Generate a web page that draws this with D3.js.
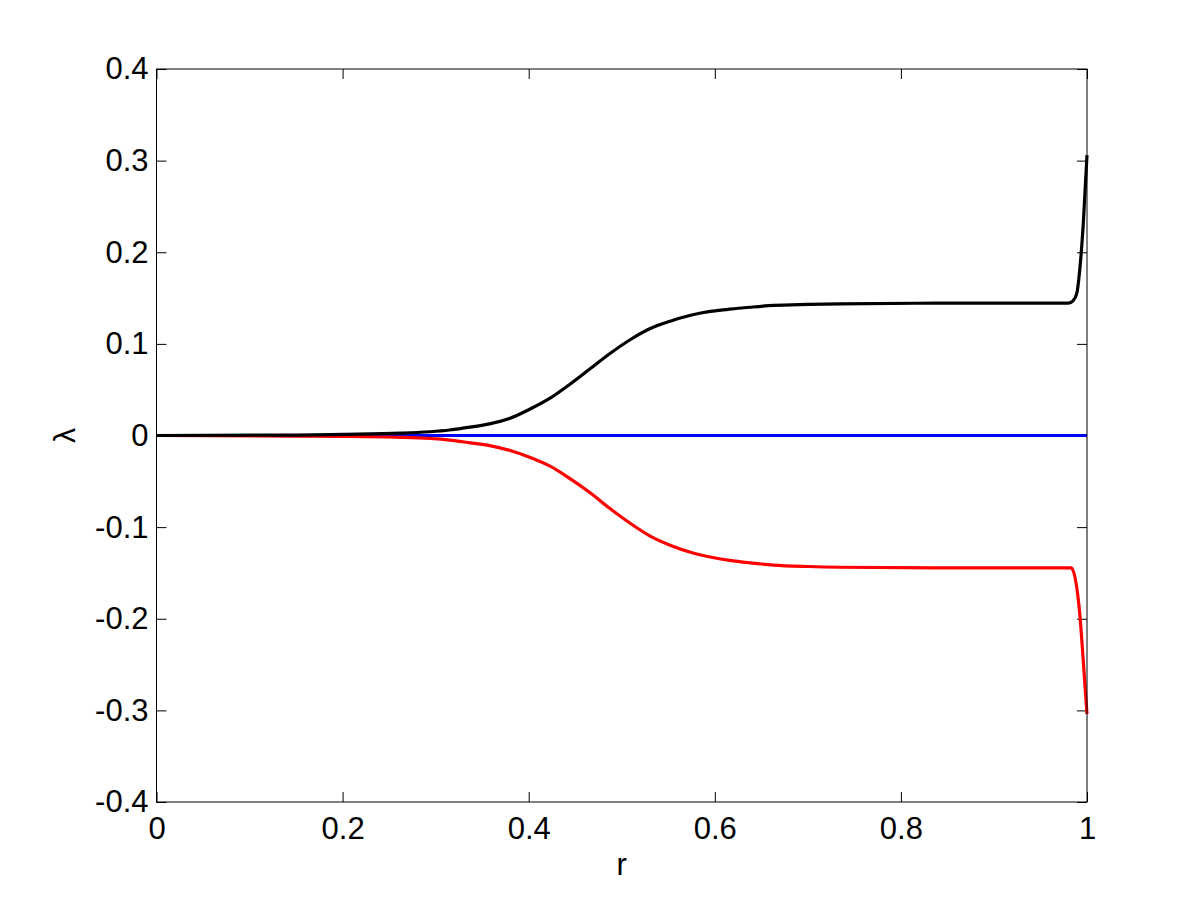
<!DOCTYPE html>
<html>
<head>
<meta charset="utf-8">
<script src="https://cdn.jsdelivr.net/npm/d3@7"></script>
<style>
  body { margin: 0; background: #fff; }
  svg text { font-family: Arial, "Liberation Sans", sans-serif; }
</style>
</head>
<body>
<div id="chart"></div>
<script>
// svg size
const width = 1201;
const height = 901;
const margin = { top: 69, right: 114, bottom: 99, left: 156.5 };

// upper branch (black)
const rUpper = [0, 0.15, 0.2, 0.262, 0.315, 0.337, 0.358, 0.38, 0.401, 0.423, 0.444, 0.466, 0.487, 0.509, 0.53, 0.552, 0.573, 0.595, 0.616, 0.638, 0.663, 0.7, 0.735, 0.84, 0.98, 0.985, 0.989, 0.9925, 0.996, 1.0];
const lambdaUpper = [0, 0.0005, 0.0012, 0.0025, 0.006, 0.0091, 0.0127, 0.0188, 0.0286, 0.0407, 0.0557, 0.0728, 0.0892, 0.1045, 0.1165, 0.1248, 0.131, 0.1354, 0.1379, 0.14, 0.142, 0.1431, 0.1437, 0.1444, 0.1445, 0.147, 0.155, 0.184, 0.231, 0.306];

// lower branch (red)
const rLower = [0, 0.2, 0.262, 0.315, 0.337, 0.358, 0.38, 0.401, 0.423, 0.444, 0.466, 0.487, 0.509, 0.53, 0.552, 0.573, 0.595, 0.616, 0.638, 0.663, 0.7, 0.734, 0.842, 0.983, 0.989, 0.9925, 0.996, 1.0];
const lambdaLower = [0, -0.001, -0.002, -0.005, -0.008, -0.011, -0.0164, -0.0237, -0.0335, -0.0468, -0.0625, -0.0795, -0.0958, -0.1095, -0.1197, -0.1272, -0.1326, -0.1363, -0.139, -0.1414, -0.143, -0.1438, -0.1445, -0.1445, -0.166, -0.198, -0.246, -0.304];

// zero branch (blue)
const rZero = [0, 1];
const lambdaZero = [0, 0];

// tick labels
const xTicks = [0, 0.2, 0.4, 0.6, 0.8, 1];
const yTicks = [-0.4, -0.3, -0.2, -0.1, 0, 0.1, 0.2, 0.3, 0.4];

const x = d3.scaleLinear().domain([0, 1]).range([margin.left, width - margin.right]);
const y = d3.scaleLinear().domain([-0.4, 0.4]).range([height - margin.bottom, margin.top]);

const svg = d3.select("#chart").append("svg")
  .attr("width", width)
  .attr("height", height);

// plain hyphen for negatives, like the original
const fmt = d => d === 0 ? "0" : (d === 1 ? "1" : d.toFixed(1));
const tickLen = 10;
const fontSize = "31px";

// axes: ticks inward, box around
const axisB = svg.append("g")
  .attr("transform", `translate(0,${height - margin.bottom})`)
  .call(d3.axisBottom(x).tickValues(xTicks).tickFormat(fmt).tickSizeInner(-tickLen).tickSizeOuter(0).tickPadding(15));
const axisT = svg.append("g")
  .attr("transform", `translate(0,${margin.top})`)
  .call(d3.axisTop(x).tickValues(xTicks).tickFormat("").tickSizeInner(-tickLen).tickSizeOuter(0));
const axisL = svg.append("g")
  .attr("transform", `translate(${margin.left},0)`)
  .call(d3.axisLeft(y).tickValues(yTicks).tickFormat(fmt).tickSizeInner(-tickLen).tickSizeOuter(0).tickPadding(8));
const axisR = svg.append("g")
  .attr("transform", `translate(${width - margin.right},0)`)
  .call(d3.axisRight(y).tickValues(yTicks).tickFormat("").tickSizeInner(-tickLen).tickSizeOuter(0));

svg.selectAll(".domain").remove();
[axisB, axisT, axisL, axisR].forEach(g => {
  g.selectAll("text").attr("font-size", fontSize).attr("fill", "#000")
    .attr("font-family", "Arial, 'Liberation Sans', sans-serif");
  g.selectAll("line").attr("stroke", "#000");
});

// curves
const line = d3.line()
  .x(d => x(d[0]))
  .y(d => y(d[1]))
  .curve(d3.curveMonotoneX);

const series = [
  { r: rZero, v: lambdaZero, color: "#0000ff" },
  { r: rLower, v: lambdaLower, color: "#ff0000" },
  { r: rUpper, v: lambdaUpper, color: "#000000" }
];

series.forEach(s => {
  svg.append("path")
    .datum(d3.zip(s.r, s.v))
    .attr("d", line)
    .attr("fill", "none")
    .attr("stroke", s.color)
    .attr("stroke-width", 3.2);
});

// box
svg.append("rect")
  .attr("x", margin.left)
  .attr("y", margin.top)
  .attr("width", width - margin.left - margin.right)
  .attr("height", height - margin.top - margin.bottom)
  .attr("fill", "none")
  .attr("stroke", "#000")
  .attr("stroke-width", 1);

// axis labels
svg.append("text")
  .attr("x", (margin.left + width - margin.right) / 2)
  .attr("y", 875)
  .attr("text-anchor", "middle")
  .attr("font-size", fontSize)
  .text("r");

svg.append("text")
  .attr("transform", `translate(75,${y(0)}) rotate(-90)`)
  .attr("text-anchor", "middle")
  .attr("font-family", "'Liberation Serif', 'DejaVu Serif', serif")
  .attr("font-size", "30px")
  .text("λ");
</script>
</body>
</html>
